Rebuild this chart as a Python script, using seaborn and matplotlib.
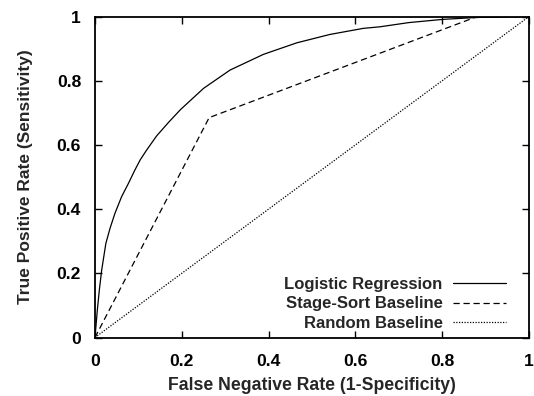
import numpy as np
import pandas as pd
import matplotlib
matplotlib.use("Agg")
import matplotlib.pyplot as plt
import seaborn as sns

# Data
lr_fpr = [0.0, 0.0054, 0.010, 0.0154, 0.025, 0.0346, 0.046, 0.0614, 0.077, 0.092, 0.104,
          0.119, 0.142, 0.170, 0.197, 0.250, 0.311, 0.388, 0.465, 0.541, 0.618, 0.657,
          0.723, 0.801, 0.880, 1.0]
lr_tpr = [0.0, 0.086, 0.148, 0.210, 0.293, 0.340, 0.387, 0.439, 0.480, 0.522, 0.553,
          0.584, 0.628, 0.671, 0.710, 0.776, 0.833, 0.882, 0.918, 0.944, 0.963, 0.968,
          0.981, 0.991, 0.997, 1.0]
ss_fpr = [0.0, 0.263, 0.875, 1.0]
ss_tpr = [0.0, 0.685, 0.997, 1.0]
rb_fpr = [0.0, 1.0]
rb_tpr = [0.0, 1.0]
labels = ["Logistic Regression", "Stage-Sort Baseline", "Random Baseline"]
ticks = [0, 0.2, 0.4, 0.6, 0.8, 1]
tick_labels = ["0", "0.2", "0.4", "0.6", "0.8", "1"]

sns.set_style("ticks")
plt.rcParams['font.family'] = ['Liberation Sans', 'DejaVu Sans']
plt.rcParams['font.weight'] = 'bold'

fig = plt.figure(figsize=(5.34, 3.96), dpi=100)
ax = fig.add_axes([95 / 534, 1 - 337.5 / 396, 434 / 534, 321 / 396])

df_lr = pd.DataFrame({"x": lr_fpr, "y": lr_tpr})
df_ss = pd.DataFrame({"x": ss_fpr, "y": ss_tpr})
df_rb = pd.DataFrame({"x": rb_fpr, "y": rb_tpr})

sns.lineplot(data=df_lr, x="x", y="y", ax=ax, color="black", lw=0.9, sort=False,
             label=labels[0], estimator=None)
sns.lineplot(data=df_ss, x="x", y="y", ax=ax, color="black", lw=0.9, sort=False,
             label=labels[1], estimator=None, linestyle=(0, (5, 3)))
sns.lineplot(data=df_rb, x="x", y="y", ax=ax, color="black", lw=0.9, sort=False,
             label=labels[2], estimator=None, linestyle=(0, (1, 1.2)))

ax.set_xlim(0, 1)
ax.set_ylim(0, 1)
ax.set_xticks(ticks)
ax.set_xticklabels(tick_labels)
ax.set_yticks(ticks)
ax.set_yticklabels(tick_labels)
ax.tick_params(direction="in", length=5, width=1.0, top=True, right=True,
               labelsize=12.6, pad=10, colors="black")
ax.tick_params(axis="x", pad=12)
for lab in ax.get_xticklabels() + ax.get_yticklabels():
    lab.set_fontweight("bold")
for sp in ax.spines.values():
    sp.set_linewidth(1.3)
    sp.set_color("black")

ax.set_xlabel("False Negative Rate (1-Specificity)", fontsize=12.7, fontweight="bold", labelpad=6)
ax.set_ylabel("True Positive Rate (Sensitivity)", fontsize=12.5, fontweight="bold", labelpad=17)

leg = ax.legend(loc="lower right", bbox_to_anchor=(0.947, 0.02), frameon=False,
                markerfirst=False, handlelength=3.2, handletextpad=0.6,
                labelspacing=0.28, borderaxespad=0.0, borderpad=0.0,
                prop={"weight": "bold", "size": 12})

fig.savefig("out.png", dpi=100)
